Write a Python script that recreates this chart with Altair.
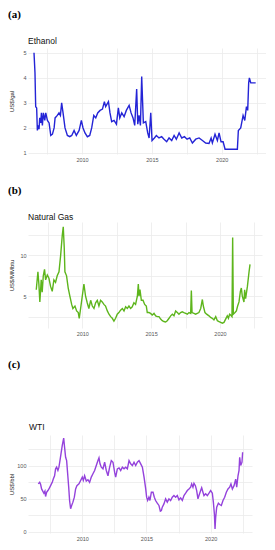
import altair as alt
import pandas as pd

# ---------------- data ----------------
eth_year = [2006.56, 2006.63, 2006.68, 2006.75, 2006.80, 2006.87, 2006.92, 2006.97, 2007.04, 2007.09,
            2007.16, 2007.23, 2007.33, 2007.40, 2007.52, 2007.64, 2007.76, 2007.88, 2008.00, 2008.07,
            2008.23, 2008.35, 2008.45, 2008.54, 2008.64, 2008.78, 2008.95, 2009.12, 2009.26, 2009.43,
            2009.59, 2009.79, 2009.95, 2010.07, 2010.21, 2010.38, 2010.55, 2010.69, 2010.84, 2010.98,
            2011.12, 2011.29, 2011.46, 2011.60, 2011.69, 2011.89, 2012.00, 2012.12, 2012.29, 2012.46,
            2012.60, 2012.70, 2012.84, 2013.01, 2013.17, 2013.37, 2013.51, 2013.65, 2013.77, 2013.91,
            2013.99, 2014.08, 2014.18, 2014.27, 2014.39, 2014.56, 2014.70, 2014.80, 2014.92, 2015.01,
            2015.18, 2015.32, 2015.51, 2015.70, 2015.87, 2016.06, 2016.23, 2016.42, 2016.59, 2016.75,
            2016.95, 2017.14, 2017.33, 2017.52, 2017.71, 2017.90, 2018.14, 2018.38, 2018.62, 2018.85,
            2019.09, 2019.24, 2019.33, 2019.52, 2019.69, 2019.81, 2019.95, 2020.10, 2020.24, 2021.12,
            2021.19, 2021.36, 2021.53, 2021.65, 2021.77, 2021.86, 2021.93, 2021.98, 2022.08, 2022.43]
eth_price = [5.0, 4.2, 2.85, 2.8, 1.9, 2.1, 1.95, 2.4, 2.2, 2.6,
             2.1, 2.6, 2.3, 2.6, 2.3, 2.2, 1.7, 1.75, 2.0, 2.4,
             2.5, 2.6, 2.5, 3.0, 2.6, 2.0, 1.7, 1.65, 1.7, 1.9,
             1.7, 1.9, 2.3, 2.0, 1.8, 1.65, 1.7, 2.0, 2.5, 2.4,
             2.6, 2.7, 2.75, 3.05, 2.85, 3.05, 2.6, 2.25, 2.3, 2.15,
             2.8, 2.4, 2.6, 2.45, 2.7, 2.9, 2.6, 2.4, 2.1, 3.55,
             2.15, 2.5, 2.1, 4.05, 2.2, 2.25, 1.8, 1.6, 2.6, 1.5,
             1.6, 1.7, 1.6, 1.65, 1.55, 1.45, 1.6, 1.5, 1.7, 1.55,
             1.8, 1.6, 1.65, 1.55, 1.6, 1.4, 1.55, 1.6, 1.5, 1.4,
             1.38, 1.6, 1.4, 1.75, 1.5, 1.8, 1.45, 1.45, 1.15, 1.15,
             1.9, 2.0, 2.5, 2.3, 2.85, 2.7, 3.8, 4.0, 3.8, 3.8]

gas_year = [2006.66, 2006.78, 2006.85, 2006.92, 2007.02, 2007.09, 2007.17, 2007.26, 2007.34, 2007.46,
            2007.58, 2007.70, 2007.82, 2007.94, 2008.06, 2008.18, 2008.31, 2008.43, 2008.55, 2008.62,
            2008.69, 2008.74, 2008.86, 2008.98, 2009.10, 2009.23, 2009.32, 2009.47, 2009.59, 2009.71,
            2009.78, 2009.88, 2010.00, 2010.12, 2010.24, 2010.36, 2010.48, 2010.61, 2010.73, 2010.85,
            2010.97, 2011.09, 2011.21, 2011.33, 2011.45, 2011.57, 2011.69, 2011.82, 2011.94, 2012.06,
            2012.18, 2012.30, 2012.42, 2012.54, 2012.66, 2012.78, 2012.91, 2013.03, 2013.15, 2013.27,
            2013.39, 2013.51, 2013.63, 2013.75, 2013.87, 2014.00, 2014.07, 2014.12, 2014.19, 2014.29,
            2014.41, 2014.53, 2014.65, 2014.72, 2014.84, 2014.96, 2015.08, 2015.21, 2015.33, 2015.45,
            2015.57, 2015.69, 2015.81, 2015.93, 2016.05, 2016.17, 2016.30, 2016.42, 2016.54, 2016.66,
            2016.78, 2016.90, 2017.02, 2017.14, 2017.26, 2017.38, 2017.51, 2017.63, 2017.75, 2017.87,
            2017.92, 2017.97, 2018.11, 2018.23, 2018.35, 2018.47, 2018.60, 2018.72, 2018.79, 2018.91,
            2019.03, 2019.20, 2019.32, 2019.44, 2019.56, 2019.69, 2019.81, 2019.93, 2020.05, 2020.17,
            2020.29, 2020.41, 2020.53, 2020.61, 2020.70, 2020.77, 2020.87, 2020.92, 2020.97, 2021.09,
            2021.19, 2021.28, 2021.38, 2021.48, 2021.55, 2021.62, 2021.74, 2021.79, 2021.86, 2021.99,
            2022.11, 2022.18]
gas_price = [5.8, 8.0, 6.5, 4.3, 7.0, 5.5, 7.5, 8.3, 7.0, 7.6,
             7.2, 6.2, 5.6, 7.0, 6.7, 7.5, 8.0, 10.0, 12.5, 13.5,
             11.0, 8.0, 7.5, 6.0, 5.0, 4.0, 3.5, 3.8, 3.2, 3.0,
             2.3, 3.5, 5.0, 6.5, 5.0, 4.2, 3.5, 4.5, 3.8, 3.5,
             4.2, 4.5, 3.8, 4.5, 4.3, 4.0, 3.8, 3.2, 2.8, 2.5,
             2.3, 1.95, 2.3, 2.8, 3.0, 3.3, 3.5, 3.2, 3.7, 3.5,
             3.8, 3.5, 3.7, 4.2, 4.0, 5.0, 6.5, 5.0, 5.8, 4.5,
             4.5, 4.0, 3.8, 3.0, 3.0, 2.9, 2.7, 2.9, 2.6, 2.5,
             2.5, 2.2, 2.0, 1.9, 1.85, 2.0, 2.3, 2.6, 2.8, 2.6,
             3.2, 3.0, 2.8, 3.0, 3.1, 3.0, 2.9, 2.8, 3.0, 2.9,
             5.7, 3.0, 2.9, 2.8, 2.9, 3.0, 3.5, 4.6, 3.8, 3.0,
             2.8, 2.6, 2.4, 2.3, 2.1, 2.5, 2.0, 1.9, 1.8, 1.7,
             1.8, 2.2, 2.6, 2.3, 2.8, 2.7, 2.5, 12.2, 2.8, 3.0,
             3.2, 3.8, 4.3, 5.6, 6.0, 5.0, 4.3, 5.8, 4.7, 6.2,
             8.0, 8.9]

wti_year = [2006.57, 2006.68, 2006.75, 2006.83, 2006.94, 2007.01, 2007.09, 2007.14, 2007.22, 2007.32,
            2007.40, 2007.53, 2007.66, 2007.74, 2007.84, 2007.92, 2008.00, 2008.10, 2008.18, 2008.26,
            2008.34, 2008.44, 2008.55, 2008.62, 2008.70, 2008.78, 2008.86, 2008.94, 2009.01, 2009.09,
            2009.17, 2009.27, 2009.38, 2009.48, 2009.58, 2009.74, 2009.87, 2010.00, 2010.08, 2010.18,
            2010.31, 2010.44, 2010.57, 2010.70, 2010.83, 2010.96, 2011.09, 2011.22, 2011.30, 2011.38,
            2011.48, 2011.61, 2011.74, 2011.87, 2012.00, 2012.13, 2012.26, 2012.39, 2012.52, 2012.60,
            2012.73, 2012.86, 2012.99, 2013.12, 2013.25, 2013.38, 2013.51, 2013.64, 2013.77, 2013.90,
            2014.03, 2014.16, 2014.29, 2014.42, 2014.55, 2014.68, 2014.81, 2014.94, 2015.01, 2015.09,
            2015.19, 2015.27, 2015.38, 2015.51, 2015.61, 2015.71, 2015.84, 2015.97, 2016.08, 2016.16,
            2016.23, 2016.36, 2016.49, 2016.62, 2016.75, 2016.88, 2017.01, 2017.14, 2017.27, 2017.40,
            2017.53, 2017.66, 2017.79, 2017.92, 2018.05, 2018.18, 2018.31, 2018.44, 2018.52, 2018.62,
            2018.70, 2018.81, 2018.91, 2019.01, 2019.09, 2019.22, 2019.30, 2019.40, 2019.48, 2019.61,
            2019.74, 2019.87, 2020.00, 2020.13, 2020.21, 2020.29, 2020.34, 2020.39, 2020.47, 2020.60,
            2020.70, 2020.83, 2020.96, 2021.09, 2021.22, 2021.35, 2021.48, 2021.58, 2021.69, 2021.82,
            2021.95, 2022.03, 2022.13, 2022.21, 2022.26, 2022.34, 2022.44, 2022.49]
wti_price = [72.7, 75, 72, 65, 61, 58.6, 61.6, 53.5, 60, 62.6,
             65, 70, 75, 80, 85, 95.5, 98, 93, 98, 108,
             118, 131, 142, 128, 113, 108, 88, 68, 47.5, 35,
             40, 45, 52.5, 65, 70, 72.7, 77.8, 83, 78, 85,
             77, 79, 75, 83, 88, 93, 100.5, 108, 112, 103,
             98, 95.5, 105.5, 93, 85, 98, 108, 105.5, 90, 83,
             95.5, 97, 93, 98, 95.5, 98, 95.5, 108, 103, 100.5,
             105.5, 100.5, 105.5, 108, 103, 98, 83, 65, 52.5, 47.5,
             52.5, 47.5, 60, 60, 52.5, 47.5, 43.4, 40, 31.3, 32.3,
             37.4, 42.4, 50, 45, 50, 47.5, 52.5, 55, 52.5, 55,
             48.5, 51.5, 47.5, 55, 58.6, 62.6, 65, 67.7, 72.7, 67.7,
             73.7, 70, 62.6, 50, 55, 62.6, 66.7, 60, 55, 57.6,
             55, 58.6, 62.6, 58.6, 45, 27, 4.5, 22, 37.4, 43.4,
             41.4, 40, 47.5, 52.5, 60, 65, 67.7, 72.7, 65, 70,
             80, 67.7, 85, 93, 113, 100.5, 105.5, 120.7]

x_ticks = [2007.5, 2010, 2012.5, 2015, 2017.5, 2020, 2022.5]

FONT = "Liberation Sans"


def panel(tag, name, ylab, years, values, color, xdomain, ydomain, yticks,
          major_step, width, height, title_offset, name_x, name_y):
    df = pd.DataFrame({"year": years, "value": values})
    line = alt.Chart(df).mark_line(color=color, strokeWidth=1.4, clip=True).encode(
        x=alt.X("year:Q", title=None,
                scale=alt.Scale(domain=xdomain, nice=False, zero=False),
                axis=alt.Axis(values=x_ticks, format="d",
                              labelExpr="datum.value % 5 == 0 ? datum.label : ''",
                              ticks=False, domain=False, labelFont=FONT,
                              labelFontSize=5.5, labelColor="#555555",
                              labelPadding=3, gridColor="#ebebeb",
                              gridWidth=0.8, labelOverlap=False)),
        y=alt.Y("value:Q", title=ylab,
                scale=alt.Scale(domain=ydomain, nice=False, zero=False),
                axis=alt.Axis(values=yticks, format="d",
                              labelExpr=f"datum.value % {major_step} == 0 ? datum.label : ''",
                              ticks=False, domain=False, labelFont=FONT,
                              labelFontSize=5.5, labelColor="#555555",
                              labelPadding=2, titleFont=FONT, titleFontSize=6,
                              titleFontWeight="normal", titleColor="#222222",
                              titlePadding=0, minExtent=14, maxExtent=14,
                              gridColor="#ebebeb", gridWidth=0.8,
                              labelOverlap=False)),
    )
    label = alt.Chart(pd.DataFrame({"t": [name]})).mark_text(
        align="left", baseline="middle", font=FONT, fontSize=8.5, color="#111111"
    ).encode(x=alt.value(name_x), y=alt.value(name_y), text="t:N")
    return alt.layer(line, label).properties(
        width=width, height=height,
        title=alt.TitleParams(tag, anchor="start", frame="bounds",
                              font="Liberation Serif", fontWeight="bold",
                              fontSize=11, color="#000000", offset=title_offset),
    )


a = panel("(a)", "Ethanol", "US$/gal", eth_year, eth_price, "#2424d6",
          [2006.13, 2023.17], [0.96, 5.19], [1, 1.5, 2, 2.5, 3, 3.5, 4, 4.5, 5], 1,
          238, 106, 17, 0, -7.5)
b = panel("(b)", "Natural Gas", "US$/MMbtu", gas_year, gas_price, "#5db51c",
          [2006.06, 2023.05], [1.11, 14.09], [2.5, 5, 7.5, 10, 12.5], 5,
          234, 106, 17, 0, -5.5)
c = panel("(c)", "WTI", "US$/bbl", wti_year, wti_price, "#9442dc",
          [2005.77, 2023.22], [-1.75, 146.75], [0, 25, 50, 75, 100, 125], 50,
          224, 98, 53, 1, -8.5)

chart = alt.vconcat(a, b, c, spacing=21).properties(
    padding=0, background="white").configure_view(stroke=None)

chart.save("out.html", embed_options={"renderer": "svg", "actions": False})
